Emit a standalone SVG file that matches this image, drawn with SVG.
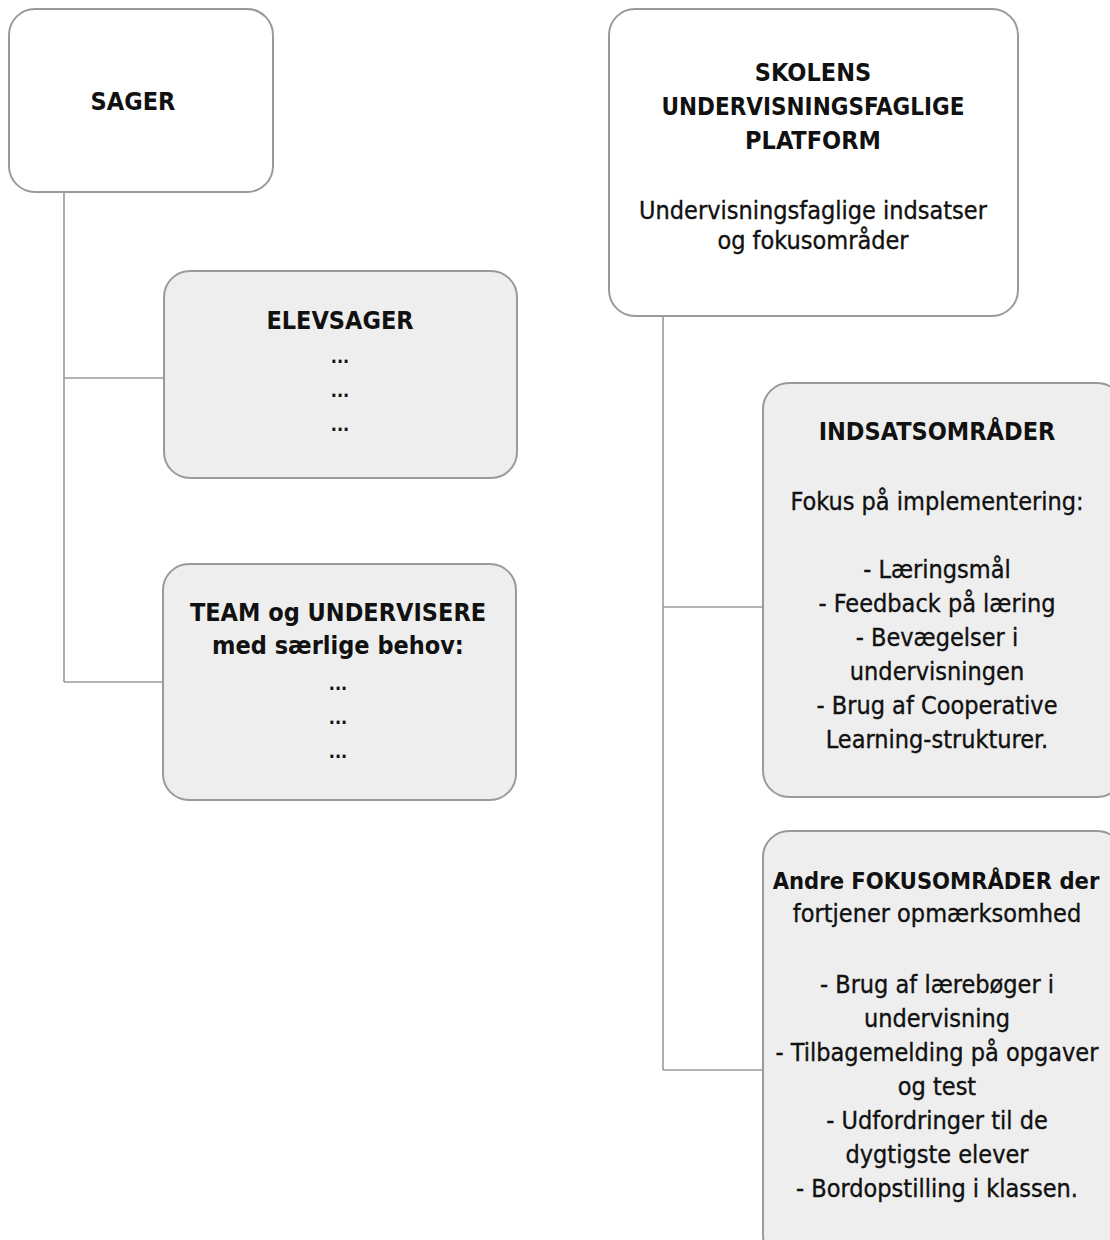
<svg xmlns="http://www.w3.org/2000/svg" width="1110" height="1240" viewBox="0 0 1110 1240">
<style>
.box{stroke:#9a9a9a;stroke-width:2;}
.w{fill:#ffffff;}
.g{fill:#eeeeee;}
.ln{stroke:#9a9a9a;stroke-width:1.6;fill:none;}
text{font-family:"DejaVu Sans Condensed","DejaVu Sans",sans-serif;fill:#111;text-anchor:middle;}
.t{font-size:25px;font-weight:bold;}
.b{font-size:25px;stroke:#111;stroke-width:0.35;}
.d{font-size:18px;font-weight:bold;}
</style>
<rect width="1110" height="1240" fill="#ffffff"/>
<g id="connectors">
<path class="ln" d="M64 192 V682 M64 378 H164 M64 682 H163"/>
<path class="ln" d="M663 316 V1070 M663 607 H763 M663 1070 H763"/>
</g>
<g id="sager">
<rect class="box w" x="9" y="9" width="264" height="183" rx="26"/>
<text class="t" x="133" y="110">SAGER</text>
</g>
<g id="skolens">
<rect class="box w" x="609" y="9" width="409" height="307" rx="26"/>
<text class="t" x="813" y="81">SKOLENS</text>
<text class="t" x="813" y="115" textLength="303" lengthAdjust="spacingAndGlyphs">UNDERVISNINGSFAGLIGE</text>
<text class="t" x="813" y="149">PLATFORM</text>
<text class="b" x="813" y="219">Undervisningsfaglige indsatser</text>
<text class="b" x="813" y="249">og fokusområder</text>
</g>
<g id="elevsager">
<rect class="box g" x="164" y="271" width="353" height="207" rx="26"/>
<text class="t" x="340" y="329">ELEVSAGER</text>
<text class="d" x="340" y="363">...</text>
<text class="d" x="340" y="397">...</text>
<text class="d" x="340" y="431">...</text>
</g>
<g id="team">
<rect class="box g" x="163" y="564" width="353" height="236" rx="26"/>
<text class="t" x="338" y="621">TEAM og UNDERVISERE</text>
<text class="t" x="338" y="654">med særlige behov:</text>
<text class="d" x="338" y="690">...</text>
<text class="d" x="338" y="724">...</text>
<text class="d" x="338" y="758">...</text>
</g>
<g id="indsats">
<rect class="box g" x="763" y="383" width="360" height="414" rx="26"/>
<text class="t" x="937" y="440">INDSATSOMRÅDER</text>
<text class="b" x="937" y="510">Fokus på implementering:</text>
<text class="b" x="937" y="578">- Læringsmål</text>
<text class="b" x="937" y="612">- Feedback på læring</text>
<text class="b" x="937" y="646">-  Bevægelser i</text>
<text class="b" x="937" y="680">undervisningen</text>
<text class="b" x="937" y="714">-  Brug af Cooperative</text>
<text class="b" x="937" y="748">Learning-strukturer.</text>
</g>
<g id="andre">
<rect class="box g" x="763" y="831" width="360" height="430" rx="26"/>
<text class="t" x="936" y="889" style="font-size:23.5px">Andre FOKUSOMRÅDER der</text>
<text class="b" x="937" y="922">fortjener opmærksomhed</text>
<text class="b" x="937" y="993">- Brug af lærebøger i</text>
<text class="b" x="937" y="1027">undervisning</text>
<text class="b" x="937" y="1061">- Tilbagemelding på opgaver</text>
<text class="b" x="937" y="1095">og test</text>
<text class="b" x="937" y="1129">- Udfordringer til de</text>
<text class="b" x="937" y="1163">dygtigste elever</text>
<text class="b" x="937" y="1197">- Bordopstilling i klassen.</text>
</g>
</svg>
